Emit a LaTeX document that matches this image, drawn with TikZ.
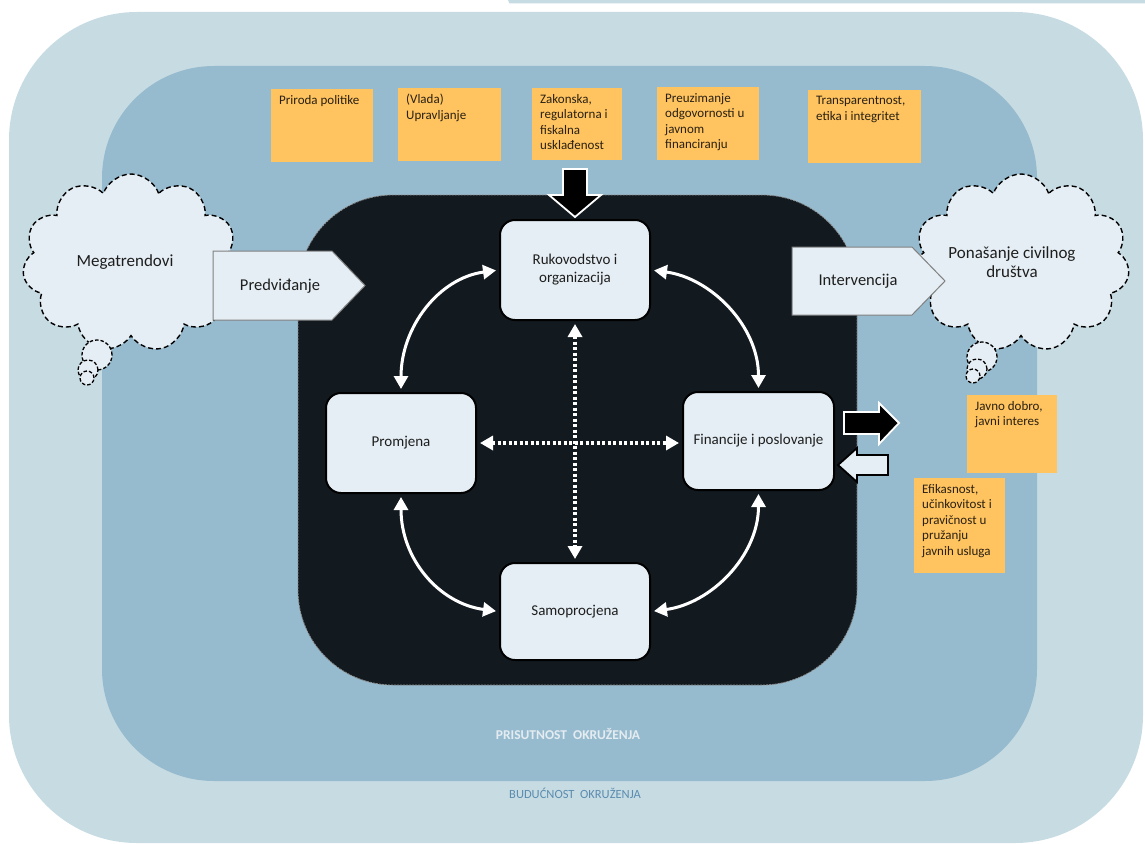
\documentclass[tikz,border=0pt]{standalone}
\usepackage{fontspec}
\setmainfont{Carlito}
\usetikzlibrary{shapes.symbols,arrows.meta}
\definecolor{outerc}{HTML}{C7DBE3}
\definecolor{innerc}{HTML}{97BBCE}
\definecolor{darkc}{HTML}{121A20}
\definecolor{boxc}{HTML}{E5EEF4}
\definecolor{notec}{HTML}{FFC35F}
\definecolor{txtc}{HTML}{1E1E1E}
\definecolor{notetxt}{HTML}{2A2113}
\definecolor{budc}{HTML}{5B8CAF}
\definecolor{prisc}{HTML}{E4ECF1}
\begin{document}
\begin{tikzpicture}[x=1pt,y=-1pt,
  stagebox/.style={draw=black,line width=2pt,fill=boxc,rounded corners=15pt,font=\fontsize{15}{18}\selectfont,text=txtc,align=center,inner sep=0pt},
  conn/.style={draw=white,line width=3pt,{Triangle[length=13pt,width=14pt]}-{Triangle[length=13pt,width=14pt]},shorten >=3pt,shorten <=3pt},
  dotconn/.style={conn,line width=3.5pt,dash pattern=on 3pt off 2.5pt},
  cloudsh/.style={cloud,cloud puffs=11,cloud puff arc=140,aspect=1.2,draw=black,dash pattern=on 5pt off 3pt,line width=1.4pt,fill=boxc,inner sep=0pt},
  bubble/.style={circle,draw=black,dash pattern=on 3.5pt off 2pt,line width=1.3pt,fill=boxc,inner sep=0pt},
  plate/.style={fill=boxc,draw=black!50,line width=1pt},
  platetext/.style={font=\fontsize{16.5}{20}\selectfont,text=txtc},
  cloudtext/.style={font=\fontsize{17}{19}\selectfont,text=txtc,align=center},
  note/.style={fill=notec,inner sep=0pt,anchor=north west},
  notetext/.style={font=\fontsize{13}{15.5}\selectfont,text=notetxt,align=left,anchor=north west,inner sep=0pt,xshift=8pt,yshift=-6pt},
  blockdark/.style={fill=black,draw=white,line width=1.8pt,line join=miter},
  blocklight/.style={fill=boxc,draw=black,line width=1.8pt,line join=miter}
]
\useasboundingbox (0,0) rectangle (1145,843);
% background layers
\fill[outerc] (508,0) -- (1145,0) -- (1145,3.5) -- (509.5,3.5) -- cycle;
\fill[outerc,rounded corners=128pt] (9,12) rectangle (1143,843);
\fill[innerc,rounded corners=112pt] (102,66) rectangle (1037,781);
\filldraw[fill=darkc,draw=black!45,dash pattern=on 2pt off 1pt,line width=0.8pt,rounded corners=95pt] (298,195) rectangle (857,685);

% environment labels
\node[font=\bfseries\fontsize{13.5}{16}\selectfont,text=prisc] (pris) at (568,734) {PRISUTNOST\ \ OKRUŽENJA};
\node[font=\fontsize{12.5}{15}\selectfont,text=budc] (bud) at (575,793) {BUDUĆNOST\ \ OKRUŽENJA};

% notes
\node[note,minimum width=102pt,minimum height=73pt] (n1) at (271,89) {};
\node[notetext] (n1t) at (n1.north west) {Priroda politike};
\node[note,minimum width=103pt,minimum height=73pt] (n2) at (398,88) {};
\node[notetext] (n2t) at (n2.north west) {(Vlada)\\Upravljanje};
\node[note,minimum width=90pt,minimum height=72pt] (n3) at (532,88) {};
\node[notetext] (n3t) at (n3.north west) {Zakonska,\\regulatorna i\\fiskalna\\usklađenost};
\node[note,minimum width=102pt,minimum height=73pt] (n4) at (657,87) {};
\node[notetext] (n4t) at (n4.north west) {Preuzimanje\\odgovornosti u\\javnom\\financiranju};
\node[note,minimum width=113pt,minimum height=73pt] (n5) at (808,90) {};
\node[notetext] (n5t) at (n5.north west) {Transparentnost,\\etika i integritet};
\node[note,minimum width=90pt,minimum height=78pt] (n6) at (967,395) {};
\node[notetext] (n6t) at (n6.north west) {Javno dobro,\\javni interes};
\node[note,minimum width=91pt,minimum height=95pt] (n7) at (914,478) {};
\node[notetext] (n7t) at (n7.north west) {Efikasnost,\\učinkovitost i\\pravičnost u\\pružanju\\javnih usluga};

% clouds
\node[cloudsh,minimum width=217pt,minimum height=178pt] (megacloud) at (131,263) {};
\node[bubble,minimum size=30pt] (mb1) at (97,355) {};
\node[bubble,minimum size=20pt] (mb2) at (88,370) {};
\node[bubble,minimum size=14pt] (mb3) at (87,378) {};
\node[cloudtext] (megat) at (125,262) {Megatrendovi};

\node[cloudsh,minimum width=217pt,minimum height=178pt] (civcloud) at (1021,263) {};
\node[bubble,minimum size=30pt] (cb1) at (982,357) {};
\node[bubble,minimum size=20pt] (cb2) at (977,369) {};
\node[bubble,minimum size=14pt] (cb3) at (973,376) {};
\node[cloudtext] (civt) at (1012,262) {Ponašanje civilnog\\društva};

% pentagon arrows
\draw[plate] (213,251) -- (332,251) -- (365,285.5) -- (332,320) -- (213,320) -- cycle;
\node[platetext] (pred) at (280,286) {Predviđanje};
\draw[plate] (792,247) -- (912,247) -- (945,281) -- (912,315) -- (792,315) -- cycle;
\node[platetext] (interv) at (858,281) {Intervencija};

% stage boxes
\node[stagebox,minimum width=150pt,minimum height=100pt] (ruk) at (575,270) {Rukovodstvo i\\organizacija};
\node[stagebox,minimum width=150pt,minimum height=100pt] (prom) at (401,443) {Promjena};
\node[stagebox,minimum width=151pt,minimum height=98pt] (fin) at (758.5,441) {Financije i poslovanje};
\node[stagebox,minimum width=150pt,minimum height=97pt] (samo) at (575,611.5) {Samoprocjena};

% curved connectors
\draw[conn] (ruk.west) .. controls +(-60,8) and +(0,-65) .. (prom.north);
\draw[conn] (ruk.east) .. controls +(60,8) and +(0,-65) .. (fin.north);
\draw[conn] (prom.south) .. controls +(0,65) and +(-60,-8) .. (samo.west);
\draw[conn] (fin.south) .. controls +(0,65) and +(60,-8) .. (samo.east);
% dotted connectors
\draw[dotconn] (ruk.south) -- (samo.north);
\draw[dotconn] (prom.east) -- (prom.east -| fin.west);

% block arrows
\draw[blockdark,shift={(ruk.north)}] (-12,-50) -- (12,-50) -- (12,-24) -- (26,-24) -- (0,-2) -- (-26,-24) -- (-12,-24) -- cycle;
\draw[blockdark,shift={(fin.east)}] (9,-29) -- (44,-29) -- (44,-38) -- (64,-18) -- (44,3) -- (44,-7) -- (9,-7) -- cycle;
\draw[blocklight,shift={(fin.east)}] (53,14) -- (22,14) -- (22,7) -- (3,24) -- (22,41) -- (22,34) -- (53,34) -- cycle;
\end{tikzpicture}
\end{document}
